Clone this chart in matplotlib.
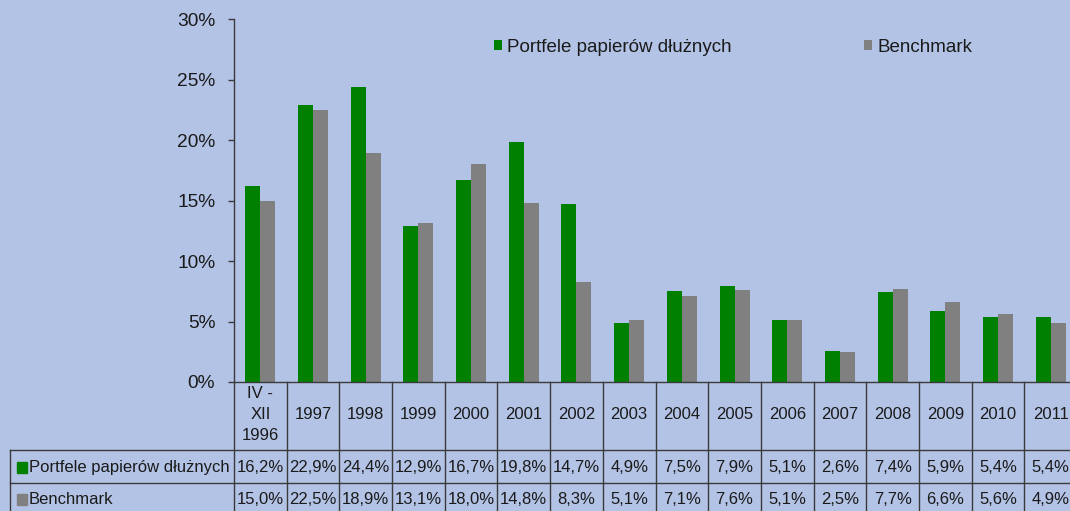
import matplotlib.pyplot as plt
from matplotlib.patches import Rectangle
import numpy as np

# Values (in %)
categories = ['IV -\nXII\n1996', '1997', '1998', '1999', '2000', '2001', '2002', '2003',
              '2004', '2005', '2006', '2007', '2008', '2009', '2010', '2011']
portfele = [16.2, 22.9, 24.4, 12.9, 16.7, 19.8, 14.7, 4.9, 7.5, 7.9, 5.1, 2.6, 7.4, 5.9, 5.4, 5.4]
benchmark = [15.0, 22.5, 18.9, 13.1, 18.0, 14.8, 8.3, 5.1, 7.1, 7.6, 5.1, 2.5, 7.7, 6.6, 5.6, 4.9]
series_names = ['Portfele papierów dłużnych', 'Benchmark']

BG = '#B3C3E5'
GREEN = '#008000'
GRAY = '#808080'
LINE = '#3a3a3a'
TXT = '#1a1a1a'

plt.rcParams['font.family'] = ['Liberation Sans', 'DejaVu Sans']

W, H = 1070, 511
fig = plt.figure(figsize=(W / 100, H / 100), dpi=100, facecolor=BG)

# Pixel geometry of the plot area (axis runs past the right edge, as in the reference)
x0, x1 = 234, 1077
y_top, y_zero = 19, 382
colw = (x1 - x0) / len(categories)

ax = fig.add_axes([x0 / W, 1 - y_zero / H, (x1 - x0) / W, (y_zero - y_top) / H])
ax.set_facecolor(BG)
x = np.arange(len(categories))
bw = 15 / colw
ax.bar(x - bw / 2, portfele, width=bw, color=GREEN, label=series_names[0])
ax.bar(x + bw / 2, benchmark, width=bw, color=GRAY, label=series_names[1])
ax.set_xlim(-0.5, len(categories) - 0.5)
ax.set_ylim(0, 30)
ax.set_yticks(range(0, 31, 5))
ax.set_yticklabels(['{}%'.format(v) for v in range(0, 31, 5)])
ax.tick_params(axis='y', direction='out', length=4.5, width=1, color=LINE,
               labelsize=13.8, labelcolor=TXT, pad=9)
ax.tick_params(axis='x', bottom=False, labelbottom=False)
for s in ('top', 'right'):
    ax.spines[s].set_visible(False)
for s in ('left', 'bottom'):
    ax.spines[s].set_color(LINE)
    ax.spines[s].set_linewidth(1)

leg = ax.legend(ncol=2, loc='upper left', bbox_to_anchor=((494 - x0) / (x1 - x0), 1.0 - 20 / (y_zero - y_top)),
                frameon=False, fontsize=13.5, handlelength=0.45, handleheight=0.45,
                handletextpad=0.25, columnspacing=7.05, borderaxespad=0, borderpad=0)
for t in leg.get_texts():
    t.set_color(TXT)

# Data table below the chart, y in pixel rows of the figure
tab = fig.add_axes([x0 / W, 0, (x1 - x0) / W, (H - y_zero) / H], sharex=ax)
tab.set_ylim(H, y_zero)
tab.axis('off')
tab.patch.set_visible(False)

def px2x(px):
    return (px - x0) / colw - 0.5

xl = px2x(10)
row1, row2 = 450, 483
for k in range(len(categories) + 1):
    tab.plot([k - 0.5, k - 0.5], [y_zero, H], color=LINE, lw=1, clip_on=False)
tab.plot([xl, xl], [row1, H], color=LINE, lw=1, clip_on=False)
for yy in (row1, row2):
    tab.plot([xl, len(categories) - 0.5], [yy, yy], color=LINE, lw=1, clip_on=False)

for i, c in enumerate(categories):
    tab.text(i, 414, c, ha='center', va='center', fontsize=12, color=TXT,
             linespacing=1.5, clip_on=False)
    tab.text(i, 467, '{:.1f}%'.format(portfele[i]).replace('.', ','), ha='center',
             va='center', fontsize=12, color=TXT)
    tab.text(i, 499, '{:.1f}%'.format(benchmark[i]).replace('.', ','), ha='center',
             va='center', fontsize=12, color=TXT)

for yc, name, col in ((467, series_names[0], GREEN), (499, series_names[1], GRAY)):
    tab.add_patch(Rectangle((px2x(17), yc - 5.5), 10 / colw, 11, color=col, clip_on=False))
    tab.text(px2x(29), yc, name, ha='left', va='center', fontsize=12, color=TXT, clip_on=False)

fig.savefig('out.png', dpi=100, facecolor=BG)
